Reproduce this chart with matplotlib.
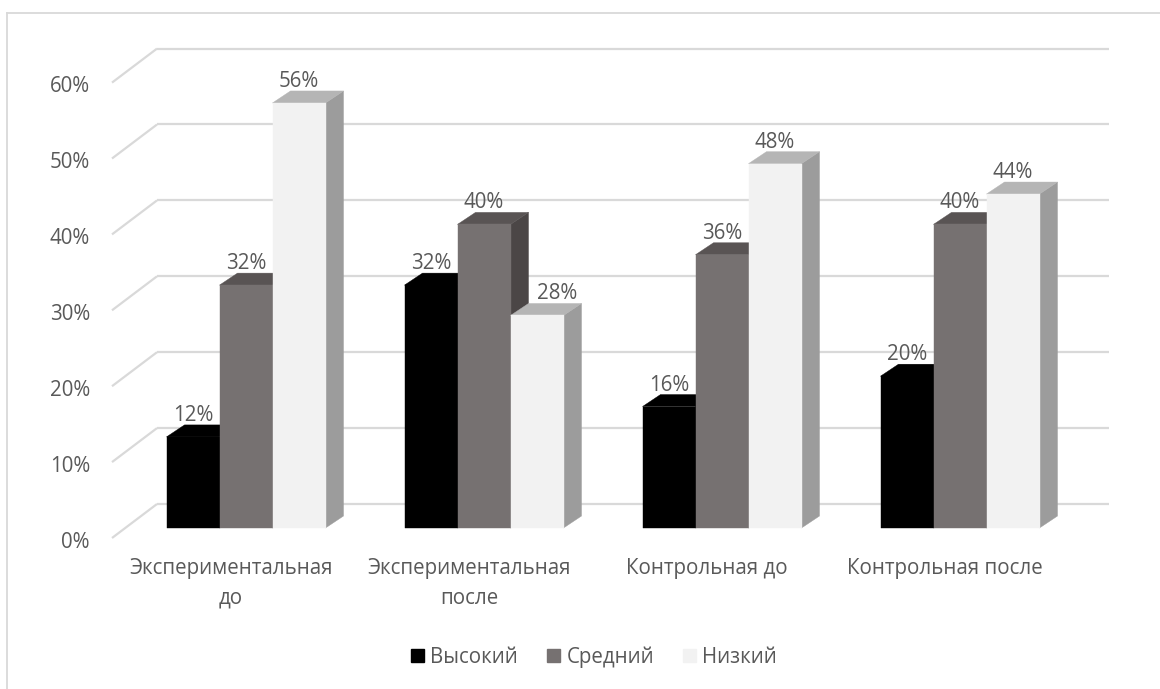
import matplotlib
matplotlib.use("Agg")
import matplotlib.pyplot as plt
from matplotlib.patches import Polygon, Patch
from matplotlib.lines import Line2D

# ---- data ----
categories = ["Экспериментальная\nдо", "Экспериментальная\nпосле",
              "Контрольная до", "Контрольная после"]
series_names = ["Высокий", "Средний", "Низкий"]
high = [0.12, 0.32, 0.16, 0.20]
medium = [0.32, 0.40, 0.36, 0.40]
low = [0.56, 0.28, 0.48, 0.44]
y_ticks = [0.0, 0.1, 0.2, 0.3, 0.4, 0.5, 0.6]
y_tick_labels = ["0%", "10%", "20%", "30%", "40%", "50%", "60%"]

# ---- styling ----
FONT = "Open Sans"
TEXT_COLOR = "#595959"
GRID_COLOR = "#d9d9d9"
FS = 14.8
# face colours per series: front, top, side
face_colors = [
    ("#000000", "#000000", "#000000"),
    ("#767171", "#595454", "#4b4646"),
    ("#f2f2f2", "#b5b5b5", "#9c9c9c"),
]
# horizontal nudge (pixels) for value labels that would sit on a taller neighbour
label_nudge = {(1, 2): 20}

W, H, DPI = 1160, 689, 100
fig = plt.figure(figsize=(W / DPI, H / DPI), dpi=DPI)
fig.patch.set_facecolor("white")

# the axes span the whole figure; data x is category index, data y is share
PX_CAT = 238.0          # pixels per category
PX_UNIT = 759.0         # pixels per 100 %
ORIGIN = (246.0, 528.0) # pixel of category 0, value 0 on the bar front plane
ax = fig.add_axes([0, 0, 1, 1])
ax.set_xlim(-ORIGIN[0] / PX_CAT, (W - ORIGIN[0]) / PX_CAT)
ax.set_ylim(-(H - ORIGIN[1]) / PX_UNIT, ORIGIN[1] / PX_UNIT)
ax.axis("off")

def px(dx, dy):
    """pixel offset -> data offset (dy positive = upwards)"""
    return dx / PX_CAT, dy / PX_UNIT

bar_dx, bar_dy = px(18, 12)      # depth of each bar
back_dx, back_dy = px(30, 24)    # bar front plane -> back wall
front_dx, front_dy = px(-15, -10)  # bar front plane -> front floor edge
bar_w = 53 / PX_CAT
n_cat = len(categories)

# chart border (left and top visible)
fig.add_artist(Line2D([7 / W, 7 / W], [0, 1 - 13 / H], color="#d9d9d9", lw=1.3))
fig.add_artist(Line2D([7 / W, 1], [1 - 13 / H, 1 - 13 / H], color="#d9d9d9", lw=1.3))

# gridlines: back wall horizontals + left wall diagonals
x_back_l = -0.5 + back_dx
x_back_r = n_cat - 0.5 + back_dx
x_front_l = -0.5 + front_dx
for t, lab in zip(y_ticks, y_tick_labels):
    yb = t + back_dy
    yf = t + front_dy
    ax.plot([x_back_l, x_back_r], [yb, yb], color=GRID_COLOR, lw=1.6,
            solid_capstyle="butt", zorder=1)
    ax.plot([x_front_l, x_back_l], [yf, yb], color=GRID_COLOR, lw=1.6,
            solid_capstyle="butt", zorder=1)
    ax.text(x_front_l - 22 / PX_CAT, yf - 4 / PX_UNIT, lab, ha="right",
            va="center", fontsize=FS, color=TEXT_COLOR, family=FONT, zorder=5)

# bars
series = [high, medium, low]
z = 2
for i in range(n_cat):
    for j, vals in enumerate(series):
        v = vals[i]
        x0 = i - 1.5 * bar_w + j * bar_w
        x1 = x0 + bar_w
        fc, tc, sc = face_colors[j]
        front = Polygon([(x0, 0), (x1, 0), (x1, v), (x0, v)], closed=True,
                        facecolor=fc, edgecolor=fc, lw=0.3, zorder=z)
        top = Polygon([(x0, v), (x1, v), (x1 + bar_dx, v + bar_dy),
                       (x0 + bar_dx, v + bar_dy)], closed=True,
                      facecolor=tc, edgecolor=tc, lw=0.3, zorder=z)
        side = Polygon([(x1, 0), (x1 + bar_dx, bar_dy),
                        (x1 + bar_dx, v + bar_dy), (x1, v)], closed=True,
                       facecolor=sc, edgecolor=sc, lw=0.3, zorder=z)
        for p in (side, top, front):
            ax.add_patch(p)
        z += 0.01
        lx = (x0 + x1) / 2 + label_nudge.get((i, j), 0) / PX_CAT
        ax.text(lx, v + bar_dy - 1 / PX_UNIT, f"{v * 100:.0f}%",
                ha="center", va="bottom", fontsize=FS, color=TEXT_COLOR,
                family=FONT, zorder=10)

# category labels
for i, c in enumerate(categories):
    ax.text(i + front_dx, -30 / PX_UNIT, c, ha="center", va="top",
            fontsize=FS, color=TEXT_COLOR, family=FONT, linespacing=1.55,
            zorder=5)

# legend
handles = [Patch(facecolor=fc[0], edgecolor=fc[0]) for fc in face_colors]
leg = ax.legend(handles, series_names, loc="center",
                bbox_to_anchor=(594 / W, 1 - 657 / H), ncol=3, frameon=False,
                handlelength=0.65, handleheight=0.65, handletextpad=0.3,
                columnspacing=1.4, prop={"family": FONT, "size": FS})
for t in leg.get_texts():
    t.set_color(TEXT_COLOR)

fig.savefig("out.png", dpi=DPI, facecolor="white")
